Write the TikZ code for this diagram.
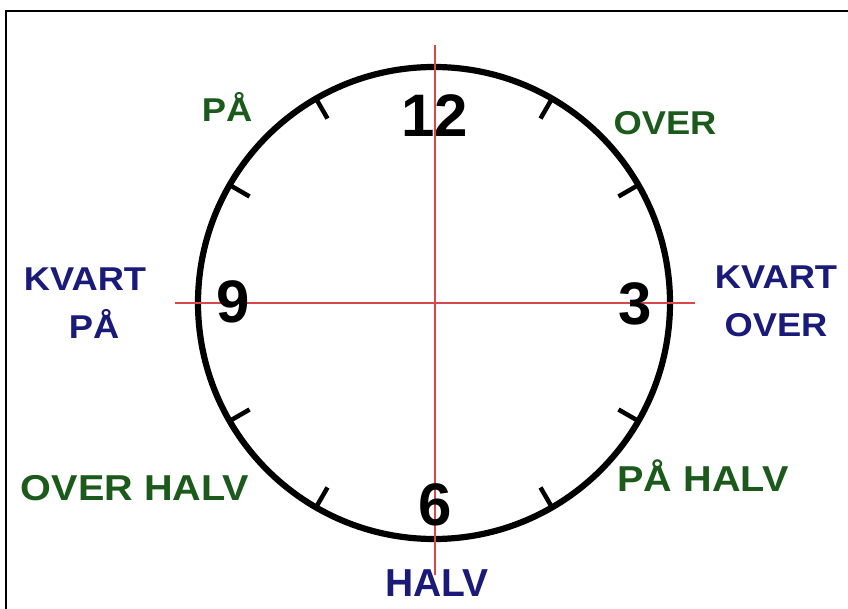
\documentclass[tikz,border=0pt]{standalone}
\usepackage{fontspec}
\setmainfont{Liberation Sans}
\newfontfamily\lblfont[FakeStretch=1.1]{Liberation Sans}
\usetikzlibrary{calc}
\definecolor{navy}{HTML}{1A1A78}
\definecolor{dgreen}{HTML}{1C5A1C}
\definecolor{redline}{HTML}{D84848}
\tikzset{
  frame/.style={line width=2pt, black},
  axis/.style={redline, line width=1.3pt},
  ring/.style={circle, draw=black, line width=6.2pt, minimum size=472pt, inner sep=0pt},
  tickmark/.style={line width=4.5pt, black},
  num/.style={anchor=base, inner sep=0pt, font=\fontsize{60}{60}\selectfont\bfseries},
  bluelbl/.style={anchor=base, inner sep=0pt, text=navy, align=center, font=\lblfont\fontsize{33}{48}\selectfont\bfseries},
  greenlbl/.style={anchor=base, inner sep=0pt, text=dgreen, font=\lblfont\fontsize{33}{40}\selectfont\bfseries},
  greenbig/.style={greenlbl, font=\lblfont\fontsize{36}{40}\selectfont\bfseries},
}
\begin{document}
\begin{tikzpicture}[x=1pt,y=-1pt]
\useasboundingbox (0,0) rectangle (848,609);
% frame
\coordinate (fbl) at (6,609);
\coordinate (ftl) at (6,11);
\coordinate (ftr) at (848,11);
\draw[frame] (fbl) -- (ftl) -- (ftr);
% clock
\coordinate (c) at (434,303);
\node (clock) [ring] at (c) {};
\foreach \h in {1,2,4,5,7,8,10,11}{
  \draw[tickmark] ($(c)+({90-30*\h}:236pt)$) -- ($(c)+({90-30*\h}:213pt)$);
}
% red axes
\coordinate (vt) at (435,45);
\coordinate (vb) at (435,575);
\coordinate (hl) at (175,303);
\coordinate (hr) at (695,303);
\draw[axis] (vt) -- (vb);
\draw[axis] (hl) -- (hr);
% numbers
\node (n12) [num] at (435,137) {12};
\node (n9) [num] at (233,323) {9};
\node (n3) [num] at (635,324) {3};
\node (n6) [num] at (435,525) {6};
% labels
\node (kp) [bluelbl] at (85,338) {KVART\\\hspace*{18pt}PÅ};
\node (ko) [bluelbl] at (776,337) {KVART\\OVER};
\node (halv) [anchor=base, inner sep=0pt, text=navy, font=\fontsize{39}{39}\selectfont\bfseries] at (437,596) {HALV};
\node (pa) [greenlbl] at (227,122) {PÅ};
\node (over) [greenlbl] at (665,135) {OVER};
\node (oh) [greenbig] at (135,500) {OVER HALV};
\node (ph) [greenbig] at (703,491) {PÅ HALV};
\end{tikzpicture}
\end{document}
